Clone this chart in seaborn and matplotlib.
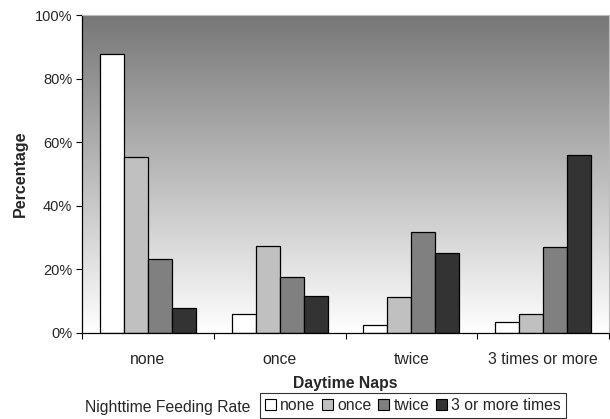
import numpy as np
import pandas as pd
import matplotlib
matplotlib.use("Agg")
import matplotlib.pyplot as plt
import seaborn as sns
from matplotlib.ticker import FixedLocator, PercentFormatter
from matplotlib.patches import Patch

# Daytime nap categories (x axis) and nighttime feeding rate series (hue)
naps = ["none", "once", "twice", "3 times or more"]
feeding = ["none", "once", "twice", "3 or more times"]

# Percentage of infants in each feeding-rate group, per nap category
feed_none = [87.7, 6.1, 2.4, 3.4]
feed_once = [55.3, 27.3, 11.3, 5.9]
feed_twice = [23.4, 17.6, 31.9, 26.9]
feed_3plus = [7.8, 11.5, 25.1, 55.9]

colors = ["#ffffff", "#c0c0c0", "#808080", "#333333"]

df = pd.DataFrame({
    "Daytime Naps": np.repeat(naps, 4),
    "Feeding": feeding * 4,
    "Percentage": [v for grp in zip(feed_none, feed_once, feed_twice, feed_3plus) for v in grp],
})

sns.set_theme(style="white")
plt.rcParams["font.family"] = ["Liberation Sans", "DejaVu Sans"]

fig = plt.figure(figsize=(6.10, 4.19), dpi=100)
ax = fig.add_axes([82 / 610, 1 - 333 / 419, 527 / 610, 318 / 419])

# vertical grey gradient behind the bars
grad = np.linspace(0, 1, 256).reshape(-1, 1)
cmap = matplotlib.colors.LinearSegmentedColormap.from_list("bg", ["#ffffff", "#777777"])
ax.imshow(grad, extent=[0, 1, 0, 1], transform=ax.transAxes, aspect="auto",
          cmap=cmap, origin="lower", zorder=0)

sns.barplot(data=df, x="Daytime Naps", y="Percentage", hue="Feeding",
            hue_order=feeding, order=naps, palette=colors, width=0.727,
            edgecolor="black", linewidth=0.9, ax=ax, legend=False, zorder=2)

ax.set_xlim(-0.5, 3.5)
ax.set_ylim(0, 100)
ax.set_yticks([0, 20, 40, 60, 80, 100])
ax.yaxis.set_major_formatter(PercentFormatter(decimals=0))
ax.tick_params(axis="y", direction="out", length=4, width=0.8, color="black",
               labelsize=10.5, pad=3, left=True)
ax.tick_params(axis="x", which="major", length=0, labelsize=11.3, pad=13.5)
ax.xaxis.set_minor_locator(FixedLocator([-0.5, 0.5, 1.5, 2.5, 3.5]))
ax.tick_params(axis="x", which="minor", direction="out", length=4, width=0.8,
               color="black", bottom=True)

for side in ["left", "bottom"]:
    ax.spines[side].set_color("black")
    ax.spines[side].set_linewidth(0.9)
for side in ["top", "right"]:
    ax.spines[side].set_color("#bbbbbb")
    ax.spines[side].set_linewidth(0.8)

ax.set_ylabel("Percentage", fontsize=11.5, fontweight="bold")
ax.yaxis.set_label_coords((28 - 82) / 527, 0.5)
ax.set_xlabel("Daytime Naps", fontsize=11.3, fontweight="bold")
ax.xaxis.set_label_coords(0.5, (333 - 376) / 318)

# legend along the bottom
handles = [Patch(facecolor=c, edgecolor="black", linewidth=0.8) for c in colors]
leg = fig.legend(handles, feeding, ncol=4, loc="center", bbox_to_anchor=(413 / 610, 1 - 405.5 / 419),
                 frameon=True, fontsize=11.3, handlelength=0.7, handleheight=0.7,
                 handletextpad=0.25, columnspacing=0.45, borderpad=0.3, borderaxespad=0,
                 fancybox=False)
leg.get_frame().set_edgecolor("black")
leg.get_frame().set_linewidth(0.8)
fig.text(168 / 610, 1 - 407 / 419, "Nighttime Feeding Rate", fontsize=11.3,
         ha="center", va="center")

fig.savefig("out.png", dpi=100)
